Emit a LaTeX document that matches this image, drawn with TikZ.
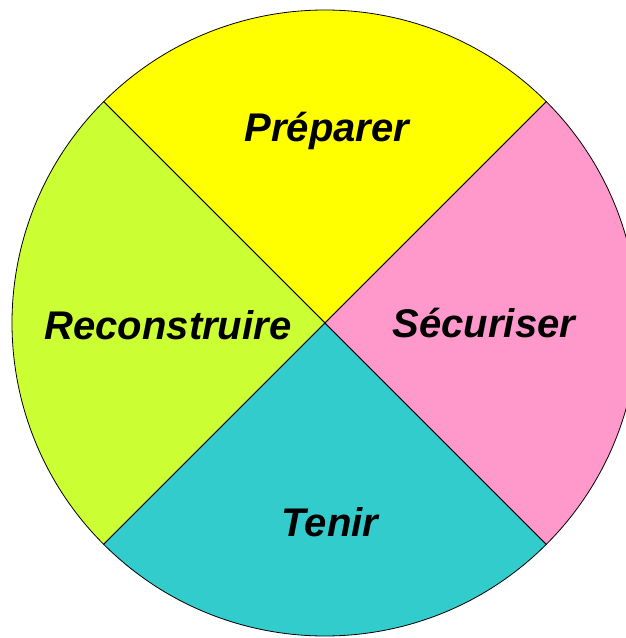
\documentclass[tikz,border=0pt]{standalone}
\usepackage{fontspec}
\setmainfont{Liberation Sans}
\usepackage{tikz}
\definecolor{prep}{HTML}{FFFF00}
\definecolor{secu}{HTML}{FF99CC}
\definecolor{teni}{HTML}{33CCCC}
\definecolor{reco}{HTML}{CCFF33}
\newcommand{\rad}{313}
\begin{document}
\begin{tikzpicture}[x=1pt,y=1pt,
    lbl/.style={font=\bfseries\itshape\fontsize{40}{40}\selectfont, inner sep=0pt},
    sector/.style={draw=black, line width=0.8pt}]
    \useasboundingbox (0,0) rectangle (626,638);
    \clip (0,0) rectangle (626,638);
    \coordinate (c) at (325,315);

    % the four quarters
    \filldraw[sector, fill=prep] (c) -- ++(45:\rad) arc[start angle=45, end angle=135, radius=\rad] -- cycle;
    \filldraw[sector, fill=reco] (c) -- ++(135:\rad) arc[start angle=135, end angle=225, radius=\rad] -- cycle;
    \filldraw[sector, fill=teni] (c) -- ++(225:\rad) arc[start angle=225, end angle=315, radius=\rad] -- cycle;
    \filldraw[sector, fill=secu] (c) -- ++(315:\rad) arc[start angle=315, end angle=405, radius=\rad] -- cycle;

    \node[lbl] (preparer) at (327,507) {Préparer};
    \node[lbl] (reconstruire) at (168,313) {Reconstruire};
    \node[lbl] (securiser) at (484,315) {Sécuriser};
    \node[lbl] (tenir) at (330,116) {Tenir};
\end{tikzpicture}
\end{document}
